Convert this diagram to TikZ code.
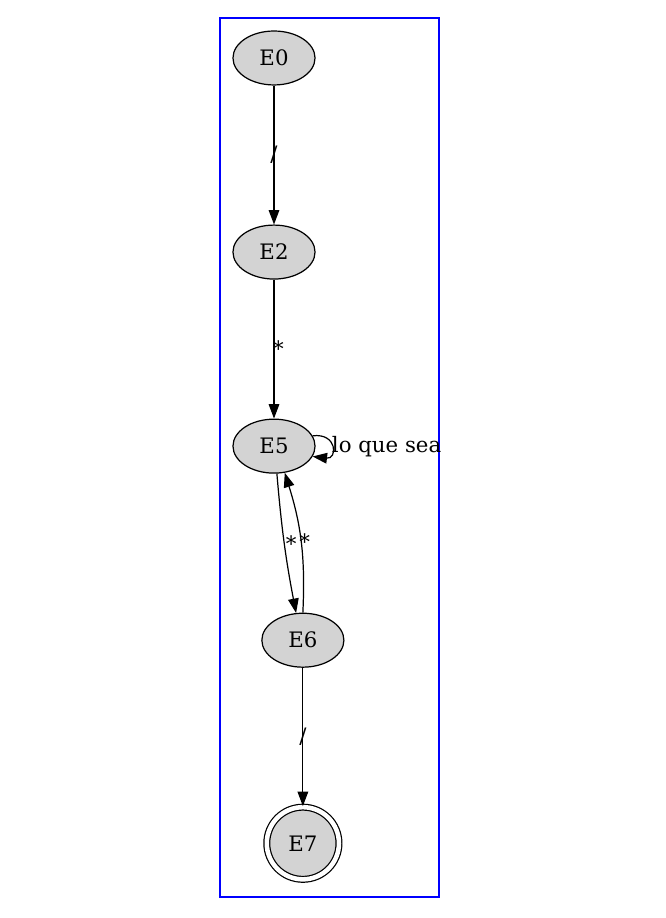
\documentclass[tikz,border=0pt]{standalone}
\usepackage{fontspec}
\setmainfont{DejaVu Serif}
\usepackage{tikz}
\usetikzlibrary{
        automata,
        arrows.meta,
        positioning,
        shapes.geometric
    }
\definecolor{stategray}{RGB}{211,211,211}
\tikzset{>={Triangle[length=9.5pt,width=7pt]},node distance=127.7pt}
\tikzset{every state/.style={draw,fill=stategray,ellipse,minimum width=54pt,minimum height=35.5pt,inner sep=0pt}}
\begin{document}
\begin{tikzpicture}[x=0.658pt,y=0.658pt,line width=0.8pt,font=\fontsize{14}{17}\selectfont]
                    \useasboundingbox (0,0) rectangle (666,918);
                    \draw[blue] (220,21) rectangle (439,900);
                    \node[state] (e0) at (274,860) {E0};
                    \node[state] (e2) [below of=e0]     {E2};
                    \node[state] (e5) [below of=e2]     {E5};
                    \node[state] (e6) [below of=e5, xshift=19pt]    {E6};
                    \node[state,accepting,circle,minimum size=47.5pt,double distance=3pt] (e7) [below of=e6, node distance=133.6pt] {E7};
                    \path[->]
                        (e0)  edge  node {/} (e2)
                        (e2)  edge  node[xshift=3pt] {*} (e5)
                        (e5.-84)  edge[bend right=3]  node[xshift=4.5pt] {*} (e6.104)
                        (e6.90)  edge[bend right=10]  node[xshift=2.5pt] {*} (e5.-68)
                        (e6)  edge  node {/} (e7)
                    ;
                    \draw[->] (e5.15) .. controls +(25,3) and +(25,-3) .. (e5.-15)
                        node[pos=0.5,anchor=west,inner sep=0pt] {lo que sea};
\end{tikzpicture}
\end{document}
